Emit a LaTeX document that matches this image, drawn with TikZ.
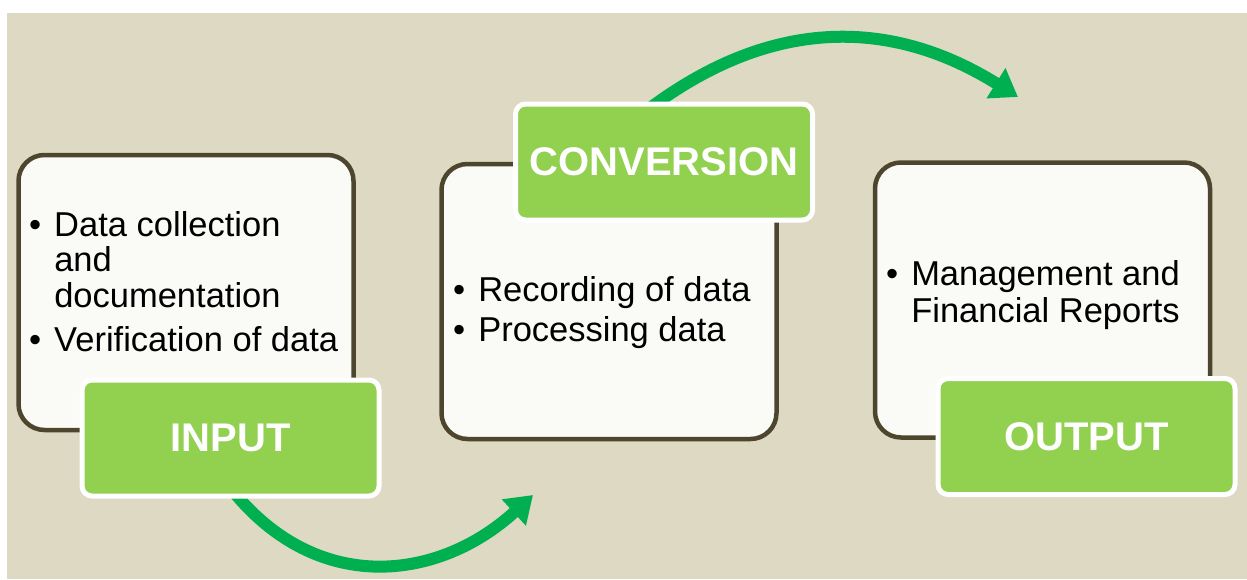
\documentclass[tikz,border=0pt]{standalone}
\usepackage{fontspec}
\setmainfont{Liberation Sans}
\usepackage{tikz}
\usetikzlibrary{arrows.meta,positioning,backgrounds}
\definecolor{bgtan}{HTML}{DDD9C3}
\definecolor{boxline}{HTML}{4D452E}
\definecolor{boxfill}{HTML}{FAFAF6}
\definecolor{lightgreen}{HTML}{92D050}
\definecolor{arrowgreen}{HTML}{00B050}
\newcommand{\bodyfont}{\fontsize{34.5}{35}\selectfont}
\newcommand{\labelfont}{\fontsize{40}{44}\selectfont\bfseries}

\begin{document}
\begin{tikzpicture}[x=1pt,y=-1pt,
  stagebox/.style={draw=boxline,fill=boxfill,line width=4.5pt,rounded corners=26pt,minimum width=335pt,minimum height=275pt},
  stagelabel/.style={draw=white,fill=lightgreen,line width=5pt,rounded corners=10pt,minimum width=297pt,minimum height=116pt,text=white,font=\labelfont},
  bodytext/.style={anchor=base west,inner sep=0pt,font=\bodyfont},
  flow/.style={arrowgreen,line width=12pt,-{Triangle[length=26pt,width=34pt]}}]
\useasboundingbox (0,0) rectangle (1247,579);
\begin{scope}[on background layer]
\fill[white] (0,0) rectangle (1247,579);
\fill[bgtan] (7,13) rectangle (1247,579);
\node[stagebox] (inbox) at (186,292.5) {};
\node[stagebox] (convbox) at (609,301.5) {};
\node[stagebox] (outbox) at (1042.5,300) {};
\end{scope}

\node[bodytext] (intext) at (29,236) {\begin{tabular}[t]{@{}l@{\hspace{13pt}}l@{}}\textbullet & Data collection\\ & and\\ & documentation\\[9pt] \textbullet & Verification of data\end{tabular}};
\node[bodytext] (convtext) at (453,301) {\begin{tabular}[t]{@{}l@{\hspace{13pt}}l@{}}\textbullet & Recording of data\\[5pt] \textbullet & Processing data\end{tabular}};
\node[bodytext] (outtext) at (886,285) {\begin{tabular}[t]{@{}l@{\hspace{13pt}}l@{}}\textbullet & Management and\\[2pt] & Financial Reports\end{tabular}};

\node[stagelabel] (input) at (230.5,438) {INPUT};
\node[stagelabel] (conv) at (664,162) {CONVERSION};
\node[stagelabel] (output) at (1086.5,436.5) {OUTPUT};

% arrows go under the green labels
\coordinate (inputtip) at (533,495);
\coordinate (convtip) at (1018,97);
\begin{scope}[on background layer]
\draw[flow] ([xshift=2pt,yshift=8pt]input.south) .. controls (318,596) and (439,581) .. (inputtip);
\draw[flow] ([xshift=-16pt,yshift=-8pt]conv.north) .. controls (775,14) and (895,20) .. (convtip);
\end{scope}

\end{tikzpicture}
\end{document}
